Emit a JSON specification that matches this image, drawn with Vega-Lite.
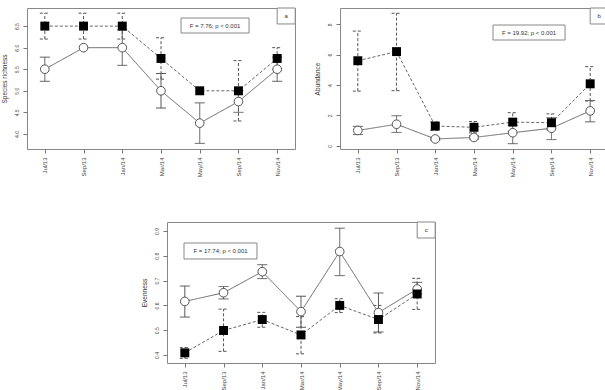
{
"$schema": "https://vega.github.io/schema/vega-lite/v6.json",
"padding": {"left": 0, "top": 7, "right": 0, "bottom": 0},
"spacing": 43,
"datasets": {
"a": [
{"date": "Jul/13", "group": "open", "mean": 5.5, "lo": 5.22, "hi": 5.78},
{"date": "Sep/13", "group": "open", "mean": 6.0, "lo": null, "hi": null},
{"date": "Jan/14", "group": "open", "mean": 6.0, "lo": 5.59, "hi": 6.41},
{"date": "Mar/14", "group": "open", "mean": 5.0, "lo": 4.6, "hi": 5.4},
{"date": "May/14", "group": "open", "mean": 4.25, "lo": 3.78, "hi": 4.72},
{"date": "Sep/14", "group": "open", "mean": 4.75, "lo": 4.5, "hi": 5.0},
{"date": "Nov/14", "group": "open", "mean": 5.5, "lo": 5.22, "hi": 5.78},
{"date": "Jul/13", "group": "filled", "mean": 6.5, "lo": 6.2, "hi": 6.8},
{"date": "Sep/13", "group": "filled", "mean": 6.5, "lo": 6.2, "hi": 6.8},
{"date": "Jan/14", "group": "filled", "mean": 6.5, "lo": 6.2, "hi": 6.8},
{"date": "Mar/14", "group": "filled", "mean": 5.75, "lo": 5.27, "hi": 6.23},
{"date": "May/14", "group": "filled", "mean": 5.0, "lo": null, "hi": null},
{"date": "Sep/14", "group": "filled", "mean": 5.0, "lo": 4.3, "hi": 5.7},
{"date": "Nov/14", "group": "filled", "mean": 5.75, "lo": 5.5, "hi": 6.0}
],
"b": [
{"date": "Jul/13", "group": "open", "mean": 1.01, "lo": 0.74, "hi": 1.28},
{"date": "Sep/13", "group": "open", "mean": 1.42, "lo": 0.88, "hi": 1.98},
{"date": "Jan/14", "group": "open", "mean": 0.45, "lo": 0.38, "hi": 0.52},
{"date": "Mar/14", "group": "open", "mean": 0.55, "lo": 0.45, "hi": 0.65},
{"date": "May/14", "group": "open", "mean": 0.86, "lo": 0.14, "hi": 1.35},
{"date": "Sep/14", "group": "open", "mean": 1.16, "lo": 0.41, "hi": 1.85},
{"date": "Nov/14", "group": "open", "mean": 2.3, "lo": 1.58, "hi": 2.98},
{"date": "Jul/13", "group": "filled", "mean": 5.6, "lo": 3.6, "hi": 7.55},
{"date": "Sep/13", "group": "filled", "mean": 6.2, "lo": 3.63, "hi": 8.72},
{"date": "Jan/14", "group": "filled", "mean": 1.3, "lo": 1.02, "hi": 1.57},
{"date": "Mar/14", "group": "filled", "mean": 1.22, "lo": 0.85, "hi": 1.6},
{"date": "May/14", "group": "filled", "mean": 1.56, "lo": 0.95, "hi": 2.18},
{"date": "Sep/14", "group": "filled", "mean": 1.52, "lo": 1.05, "hi": 2.1},
{"date": "Nov/14", "group": "filled", "mean": 4.08, "lo": 2.95, "hi": 5.21}
],
"c": [
{"date": "Jul/13", "group": "open", "mean": 0.616, "lo": 0.553, "hi": 0.678},
{"date": "Sep/13", "group": "open", "mean": 0.651, "lo": 0.626, "hi": 0.676},
{"date": "Jan/14", "group": "open", "mean": 0.736, "lo": 0.708, "hi": 0.764},
{"date": "Mar/14", "group": "open", "mean": 0.575, "lo": 0.512, "hi": 0.637},
{"date": "May/14", "group": "open", "mean": 0.817, "lo": 0.72, "hi": 0.911},
{"date": "Sep/14", "group": "open", "mean": 0.571, "lo": 0.493, "hi": 0.65},
{"date": "Nov/14", "group": "open", "mean": 0.666, "lo": 0.647, "hi": 0.693},
{"date": "Jul/13", "group": "filled", "mean": 0.409, "lo": 0.387, "hi": 0.43},
{"date": "Sep/13", "group": "filled", "mean": 0.499, "lo": 0.415, "hi": 0.585},
{"date": "Jan/14", "group": "filled", "mean": 0.543, "lo": 0.512, "hi": 0.572},
{"date": "Mar/14", "group": "filled", "mean": 0.481, "lo": 0.405, "hi": 0.555},
{"date": "May/14", "group": "filled", "mean": 0.6, "lo": 0.571, "hi": 0.627},
{"date": "Sep/14", "group": "filled", "mean": 0.543, "lo": 0.489, "hi": 0.6},
{"date": "Nov/14", "group": "filled", "mean": 0.646, "lo": 0.584, "hi": 0.709}
]
},
"vconcat": [
{"hconcat": [
{"width": 268, "height": 141, "data": {"name": "a"},
"layer": [
{"mark": {"type": "line", "color": "#666", "strokeWidth": 1},
"encoding": {
"x": {"field": "date", "type": "ordinal", "scale": {"type": "point", "padding": 0.46, "domain": ["Jul/13","Sep/13","Jan/14","Mar/14","May/14","Sep/14","Nov/14"]}, "title": null},
"y": {"field": "mean", "type": "quantitative", "scale": {"domain": [3.65, 6.92], "nice": false, "zero": false}, "title": "Species richness", "axis": {"values": [4, 4.5, 5, 5.5, 6, 6.5], "tickCount": 20, "format": ".1f", "labelOverlap": false, "labelFlush": false, "labelBound": false}},
"detail": {"field": "group"},
"strokeDash": {"field": "group", "scale": {"domain": ["open","filled"], "range": [[1,0],[3,2]]}, "legend": null},
"order": {"value": null}}},
{"mark": {"type": "rule", "color": "#555", "strokeWidth": 1},
"encoding": {"x": {"field": "date", "type": "ordinal", "title": null}, "y": {"field": "lo", "type": "quantitative", "title": "Species richness"}, "y2": {"field": "hi"}, "strokeDash": {"field": "group", "legend": null}}},
{"mark": {"type": "rule", "color": "#555", "strokeWidth": 1, "xOffset": -5, "x2Offset": 5},
"encoding": {"x": {"field": "date", "type": "ordinal", "title": null}, "x2": {"field": "date"}, "y": {"field": "lo", "type": "quantitative", "title": "Species richness"}, "strokeDash": {"field": "group", "legend": null}}},
{"mark": {"type": "rule", "color": "#555", "strokeWidth": 1, "xOffset": -5, "x2Offset": 5},
"encoding": {"x": {"field": "date", "type": "ordinal", "title": null}, "x2": {"field": "date"}, "y": {"field": "hi", "type": "quantitative", "title": "Species richness"}, "strokeDash": {"field": "group", "legend": null}}},
{"transform": [{"filter": "datum.group === 'open'"}],
"mark": {"type": "point", "shape": "circle", "filled": true, "fill": "white", "stroke": "#555", "strokeWidth": 1, "size": 75, "opacity": 1},
"encoding": {"x": {"field": "date", "type": "ordinal", "title": null}, "y": {"field": "mean", "type": "quantitative", "title": "Species richness"}}},
{"transform": [{"filter": "datum.group === 'filled'"}],
"mark": {"type": "point", "shape": "square", "filled": true, "color": "#000", "size": 80, "opacity": 1},
"encoding": {"x": {"field": "date", "type": "ordinal", "title": null}, "y": {"field": "mean", "type": "quantitative", "title": "Species richness"}}},
{"data": {"values": [{"label": "F = 7.76; p < 0.001"}]},
"mark": {"type": "rect", "fill": "white", "stroke": "#888", "strokeWidth": 1, "xOffset": -18.7, "x2Offset": 10.6},
"encoding": {"x": {"datum": "May/14", "type": "ordinal", "title": null}, "x2": {"datum": "Sep/14"}, "y": {"datum": 6.688, "type": "quantitative", "title": "Species richness"}, "y2": {"datum": 6.34}}},
{"data": {"values": [{"label": "F = 7.76; p < 0.001"}]},
"mark": {"type": "text", "fontSize": 6, "color": "#333", "align": "center", "baseline": "middle", "xOffset": 15.3},
"encoding": {"x": {"datum": "May/14", "type": "ordinal", "title": null}, "y": {"datum": 6.514, "type": "quantitative", "title": "Species richness"}, "text": {"field": "label"}}},
{"data": {"values": [{"label": "a"}]},
"mark": {"type": "rect", "fill": "white", "stroke": "#888", "strokeWidth": 1, "x2Offset": 18},
"encoding": {"x": {"datum": "Nov/14", "type": "ordinal", "title": null}, "x2": {"datum": "Nov/14"}, "y": {"datum": 6.92, "type": "quantitative", "title": "Species richness"}, "y2": {"datum": 6.55}}},
{"data": {"values": [{"label": "a"}]},
"mark": {"type": "text", "fontSize": 6, "color": "#333", "align": "center", "baseline": "middle", "xOffset": 9},
"encoding": {"x": {"datum": "Nov/14", "type": "ordinal", "title": null}, "y": {"datum": 6.734, "type": "quantitative", "title": "Species richness"}, "text": {"field": "label"}}}
]},
{"width": 268, "height": 141, "data": {"name": "b"},
"layer": [
{"mark": {"type": "line", "color": "#666", "strokeWidth": 1},
"encoding": {
"x": {"field": "date", "type": "ordinal", "scale": {"type": "point", "padding": 0.46, "domain": ["Jul/13","Sep/13","Jan/14","Mar/14","May/14","Sep/14","Nov/14"]}, "title": null},
"y": {"field": "mean", "type": "quantitative", "scale": {"domain": [-0.21, 9.07], "nice": false, "zero": false}, "title": "Abundance", "axis": {"values": [0, 2, 4, 6, 8], "tickCount": 20, "format": "d", "labelOverlap": false, "labelFlush": false, "labelBound": false}},
"detail": {"field": "group"},
"strokeDash": {"field": "group", "scale": {"domain": ["open","filled"], "range": [[1,0],[3,2]]}, "legend": null},
"order": {"value": null}}},
{"mark": {"type": "rule", "color": "#555", "strokeWidth": 1},
"encoding": {"x": {"field": "date", "type": "ordinal", "title": null}, "y": {"field": "lo", "type": "quantitative", "title": "Abundance"}, "y2": {"field": "hi"}, "strokeDash": {"field": "group", "legend": null}}},
{"mark": {"type": "rule", "color": "#555", "strokeWidth": 1, "xOffset": -5, "x2Offset": 5},
"encoding": {"x": {"field": "date", "type": "ordinal", "title": null}, "x2": {"field": "date"}, "y": {"field": "lo", "type": "quantitative", "title": "Abundance"}, "strokeDash": {"field": "group", "legend": null}}},
{"mark": {"type": "rule", "color": "#555", "strokeWidth": 1, "xOffset": -5, "x2Offset": 5},
"encoding": {"x": {"field": "date", "type": "ordinal", "title": null}, "x2": {"field": "date"}, "y": {"field": "hi", "type": "quantitative", "title": "Abundance"}, "strokeDash": {"field": "group", "legend": null}}},
{"transform": [{"filter": "datum.group === 'open'"}],
"mark": {"type": "point", "shape": "circle", "filled": true, "fill": "white", "stroke": "#555", "strokeWidth": 1, "size": 75, "opacity": 1},
"encoding": {"x": {"field": "date", "type": "ordinal", "title": null}, "y": {"field": "mean", "type": "quantitative", "title": "Abundance"}}},
{"transform": [{"filter": "datum.group === 'filled'"}],
"mark": {"type": "point", "shape": "square", "filled": true, "color": "#000", "size": 80, "opacity": 1},
"encoding": {"x": {"field": "date", "type": "ordinal", "title": null}, "y": {"field": "mean", "type": "quantitative", "title": "Abundance"}}},
{"data": {"values": [{"label": "F = 19.92; p < 0.001"}]},
"mark": {"type": "rect", "fill": "white", "stroke": "#888", "strokeWidth": 1, "xOffset": -19.7, "x2Offset": 13.6},
"encoding": {"x": {"datum": "May/14", "type": "ordinal", "title": null}, "x2": {"datum": "Sep/14"}, "y": {"datum": 7.95, "type": "quantitative", "title": "Abundance"}, "y2": {"datum": 6.963}}},
{"data": {"values": [{"label": "F = 19.92; p < 0.001"}]},
"mark": {"type": "text", "fontSize": 6, "color": "#333", "align": "center", "baseline": "middle", "xOffset": 16.3},
"encoding": {"x": {"datum": "May/14", "type": "ordinal", "title": null}, "y": {"datum": 7.457, "type": "quantitative", "title": "Abundance"}, "text": {"field": "label"}}},
{"data": {"values": [{"label": "b"}]},
"mark": {"type": "rect", "fill": "white", "stroke": "#888", "strokeWidth": 1, "x2Offset": 18},
"encoding": {"x": {"datum": "Nov/14", "type": "ordinal", "title": null}, "x2": {"datum": "Nov/14"}, "y": {"datum": 9.07, "type": "quantitative", "title": "Abundance"}, "y2": {"datum": 8.017}}},
{"data": {"values": [{"label": "b"}]},
"mark": {"type": "text", "fontSize": 6, "color": "#333", "align": "center", "baseline": "middle", "xOffset": 9},
"encoding": {"x": {"datum": "Nov/14", "type": "ordinal", "title": null}, "y": {"datum": 8.543, "type": "quantitative", "title": "Abundance"}, "text": {"field": "label"}}}
]}
], "spacing": 45, "bounds": "flush"},
{"hconcat": [
{"width": 95, "height": 141, "data": {"values": [{"k": 1}]}, "mark": {"type": "point", "opacity": 0}, "view": {"stroke": null}},
{"width": 268, "height": 141, "data": {"name": "c"},
"layer": [
{"mark": {"type": "line", "color": "#666", "strokeWidth": 1},
"encoding": {
"x": {"field": "date", "type": "ordinal", "scale": {"type": "point", "padding": 0.46, "domain": ["Jul/13","Sep/13","Jan/14","Mar/14","May/14","Sep/14","Nov/14"]}, "title": null},
"y": {"field": "mean", "type": "quantitative", "scale": {"domain": [0.368, 0.936], "nice": false, "zero": false}, "title": "Evenness", "axis": {"values": [0.4, 0.5, 0.6, 0.7, 0.8, 0.9], "tickCount": 20, "format": ".1f", "labelOverlap": false, "labelFlush": false, "labelBound": false}},
"detail": {"field": "group"},
"strokeDash": {"field": "group", "scale": {"domain": ["open","filled"], "range": [[1,0],[3,2]]}, "legend": null},
"order": {"value": null}}},
{"mark": {"type": "rule", "color": "#555", "strokeWidth": 1},
"encoding": {"x": {"field": "date", "type": "ordinal", "title": null}, "y": {"field": "lo", "type": "quantitative", "title": "Evenness"}, "y2": {"field": "hi"}, "strokeDash": {"field": "group", "legend": null}}},
{"mark": {"type": "rule", "color": "#555", "strokeWidth": 1, "xOffset": -5, "x2Offset": 5},
"encoding": {"x": {"field": "date", "type": "ordinal", "title": null}, "x2": {"field": "date"}, "y": {"field": "lo", "type": "quantitative", "title": "Evenness"}, "strokeDash": {"field": "group", "legend": null}}},
{"mark": {"type": "rule", "color": "#555", "strokeWidth": 1, "xOffset": -5, "x2Offset": 5},
"encoding": {"x": {"field": "date", "type": "ordinal", "title": null}, "x2": {"field": "date"}, "y": {"field": "hi", "type": "quantitative", "title": "Evenness"}, "strokeDash": {"field": "group", "legend": null}}},
{"transform": [{"filter": "datum.group === 'open'"}],
"mark": {"type": "point", "shape": "circle", "filled": true, "fill": "white", "stroke": "#555", "strokeWidth": 1, "size": 75, "opacity": 1},
"encoding": {"x": {"field": "date", "type": "ordinal", "title": null}, "y": {"field": "mean", "type": "quantitative", "title": "Evenness"}}},
{"transform": [{"filter": "datum.group === 'filled'"}],
"mark": {"type": "point", "shape": "square", "filled": true, "color": "#000", "size": 80, "opacity": 1},
"encoding": {"x": {"field": "date", "type": "ordinal", "title": null}, "y": {"field": "mean", "type": "quantitative", "title": "Evenness"}}},
{"data": {"values": [{"label": "F = 17.74; p < 0.001"}]},
"mark": {"type": "rect", "fill": "white", "stroke": "#888", "strokeWidth": 1, "xOffset": -0.8, "x2Offset": -5.3},
"encoding": {"x": {"datum": "Jul/13", "type": "ordinal", "title": null}, "x2": {"datum": "Jan/14"}, "y": {"datum": 0.8514, "type": "quantitative", "title": "Evenness"}, "y2": {"datum": 0.787}}},
{"data": {"values": [{"label": "F = 17.74; p < 0.001"}]},
"mark": {"type": "text", "fontSize": 6, "color": "#333", "align": "center", "baseline": "middle", "xOffset": -3},
"encoding": {"x": {"datum": "Sep/13", "type": "ordinal", "title": null}, "y": {"datum": 0.8192, "type": "quantitative", "title": "Evenness"}, "text": {"field": "label"}}},
{"data": {"values": [{"label": "c"}]},
"mark": {"type": "rect", "fill": "white", "stroke": "#888", "strokeWidth": 1, "x2Offset": 18},
"encoding": {"x": {"datum": "Nov/14", "type": "ordinal", "title": null}, "x2": {"datum": "Nov/14"}, "y": {"datum": 0.936, "type": "quantitative", "title": "Evenness"}, "y2": {"datum": 0.8716}}},
{"data": {"values": [{"label": "c"}]},
"mark": {"type": "text", "fontSize": 6, "color": "#333", "align": "center", "baseline": "middle", "xOffset": 9},
"encoding": {"x": {"datum": "Nov/14", "type": "ordinal", "title": null}, "y": {"datum": 0.9038, "type": "quantitative", "title": "Evenness"}, "text": {"field": "label"}}}
]}
], "spacing": 45, "bounds": "flush"}
],
"config": {
"font": "Liberation Sans",
"view": {"stroke": "#888", "strokeWidth": 1},
"axis": {"domain": false, "grid": false, "tickColor": "#777", "tickSize": 4, "labelFontSize": 6, "labelColor": "#444", "labelPadding": 4, "titleFontSize": 6.5, "titleFontWeight": "normal", "titleColor": "#333", "labelOverlap": false, "labelFlush": false},
"axisX": {"labelAngle": -90},
"axisY": {"labelAngle": -90, "labelFontSize": 5, "titlePadding": 7}
}
}
